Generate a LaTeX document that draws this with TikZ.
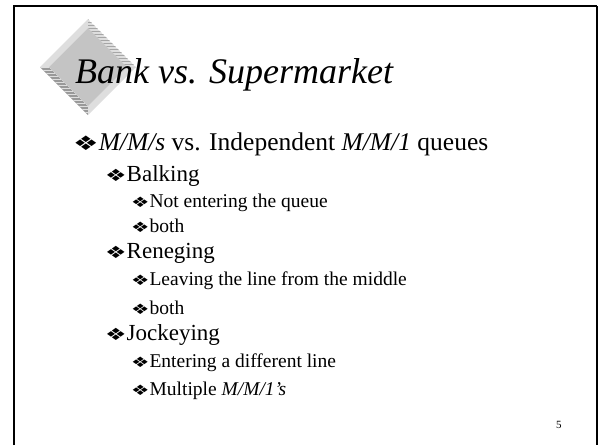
\documentclass[tikz,border=0pt]{standalone}
\usepackage{graphicx}
\usepackage{fontspec}
\setmainfont{Liberation Serif}
\newfontfamily\bulletfont{DejaVu Sans}
% flattened bullet glyph at the given size
\newcommand{\bul}[1]{\scalebox{1}[0.7]{\bulletfont\fontsize{#1}{#1}\selectfont\char"2756}}
\definecolor{facegray}{HTML}{C4C4C4}
\definecolor{litegray}{HTML}{DEDEDE}
\tikzset{
  item/.style={anchor=base west,inner sep=0pt},
  lvlone/.style={item,font=\fontsize{25.5}{28}\selectfont,execute at begin node={\bul{28.5}}},
  lvltwo/.style={item,font=\fontsize{23}{25}\selectfont,execute at begin node={\bul{24}}},
  lvlthree/.style={item,font=\fontsize{19.5}{21}\selectfont,execute at begin node={\bul{20.5}}},
}
\begin{document}
\begin{tikzpicture}[x=1pt,y=-1pt]
  \useasboundingbox (0,0) rectangle (602,445);
  % frame
  \draw[line width=2.5pt] (14,445) -- (14,6) -- (597,6);
  \draw[line width=1.5pt] (597,6) -- (597,445);
  % diamond with bevelled edges
  \coordinate (T) at (88,19);
  \coordinate (R) at (136,67);
  \coordinate (B) at (88,115);
  \coordinate (L) at (40,67);
  \coordinate (t) at (88,28);
  \coordinate (r) at (127,67);
  \coordinate (b) at (88,106);
  \coordinate (l) at (49,67);
  \fill[litegray] (T) -- (t) -- (l) -- (L) -- cycle;
  \fill[litegray] (R) -- (r) -- (b) -- (B) -- cycle;
  \begin{scope}
    \clip (T) -- (R) -- (r) -- (t) -- cycle;
    \fill[litegray] (T) -- (R) -- (r) -- (t) -- cycle;
    \foreach \y in {19,22,...,67}
      \fill[gray!70] (80,\y) rectangle (140,\y+1.4);
  \end{scope}
  \begin{scope}
    \clip (L) -- (l) -- (b) -- (B) -- cycle;
    \fill[gray!80] (L) -- (l) -- (b) -- (B) -- cycle;
    \foreach \y in {67,70,...,115}
      \fill[litegray] (36,\y) rectangle (92,\y+1.4);
  \end{scope}
  \fill[facegray] (t) -- (r) -- (b) -- (l) -- cycle;
  % title and bullets
  \node[item,font=\fontsize{36}{40}\selectfont\itshape] (title) at (75,83) {Bank vs. Supermarket};
  \node[lvlone] (queues) at (73,150) {\textit{M/M/s} vs. Independent \textit{M/M/1} queues};
  \node[lvltwo] (balk) at (105,181) {Balking};
  \node[lvlthree] (balka) at (131,207) {Not entering the queue};
  \node[lvlthree] (balkb) at (131,232) {both};
  \node[lvltwo] (reneg) at (105,258) {Reneging};
  \node[lvlthree] (renega) at (131,285) {Leaving the line from the middle};
  \node[lvlthree] (renegb) at (131,314) {both};
  \node[lvltwo] (jockey) at (105,340) {Jockeying};
  \node[lvlthree] (jockeya) at (131,367) {Entering a different line};
  \node[lvlthree] (jockeyb) at (131,395) {Multiple \textit{M/M/1’s}};
  \node[item,font=\fontsize{11}{12}\selectfont] (pagenum) at (556,428) {5};
\end{tikzpicture}
\end{document}
